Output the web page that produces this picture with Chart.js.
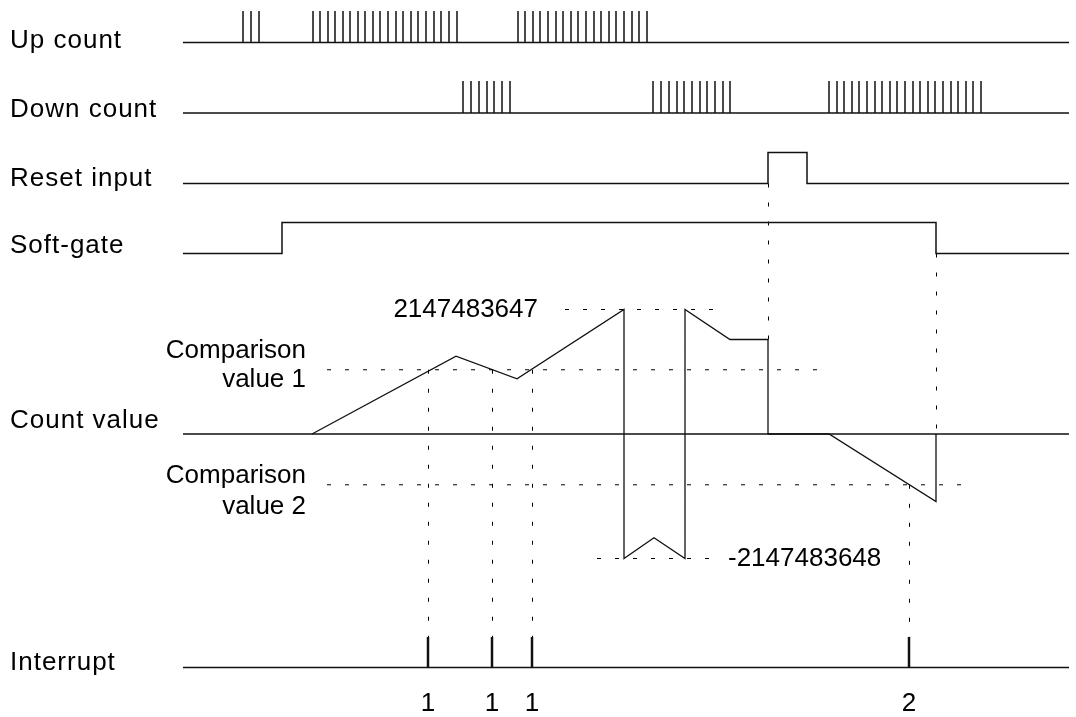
<!DOCTYPE html>
<html>
<head>
<meta charset="utf-8">
<script src="https://cdn.jsdelivr.net/npm/chart.js@4/dist/chart.umd.min.js"></script>
<style>
  html, body { margin: 0; background: #fff; }
  #wrap { width: 1076px; height: 717px; position: relative; }
</style>
</head>
<body>
<div id="wrap"><canvas id="timing"></canvas></div>
<script>
// time axis: arbitrary time units, 0 = start of every trace
const T_START = 0, T_END = 88.6;

const upPulses = [6.0, 6.8, 7.6,
  13.0, 13.7, 14.5, 15.2, 16.0, 16.7, 17.5, 18.2, 19.0, 19.7,
  20.5, 21.3, 22.0, 22.8, 23.5, 24.3, 25.1, 25.8, 26.6, 27.4,
  33.5, 34.2, 35.0, 35.7, 36.5, 37.3, 38.0, 38.8, 39.5, 40.3,
  41.1, 41.8, 42.6, 43.3, 44.1, 44.9, 45.6, 46.4];
const downPulses = [28.0, 28.8, 29.6, 30.4, 31.1, 31.9, 32.7,
  47.0, 47.8, 48.6, 49.4, 50.1, 50.9, 51.7, 52.4, 53.2, 54.0, 54.7,
  64.6, 65.4, 66.1, 66.9, 67.6, 68.4, 69.2, 69.9, 70.7, 71.4,
  72.2, 73.0, 73.7, 74.5, 75.2, 76.0, 76.8, 77.5, 78.3, 79.0, 79.8];
const resetEdges = [58.5, 62.4];
const gateEdges = [9.9, 75.3];

const COUNT_MAX = 2147483647, COUNT_MIN = -2147483648;
const compare1 = 1.108e9, compare2 = -0.876e9;
const countT = [12.9, 27.3, 33.4, 44.1, 44.1, 47.1, 50.2, 50.2, 54.7, 58.5, 58.5, 64.6, 75.3, 75.3];
const countV = [0, 1.342e9, 0.952e9, COUNT_MAX, COUNT_MIN, -1.79e9, COUNT_MIN, COUNT_MAX,
  1.63e9, 1.63e9, 0, 0, -1.164e9, 0];
const maxSpan = [38.2, 54.0];
const minSpan = [41.4, 53.4];
const compare1Span = [14.4, 64.7];
const compare2Span = [14.4, 78.0];

const interruptT = [24.5, 30.9, 34.9, 72.6];
const interruptLabels = ['1', '1', '1', '2'];

// layout (pixels)
const W = 1076, H = 717;
const X0 = 183, PX_PER_T = 10;
const lanes = {
  yUp:    { base: 42.5,  high: 11 },
  yDown:  { base: 113,   high: 81 },
  yReset: { base: 183.5, high: 152.5 },
  yGate:  { base: 253.5, high: 222.5 },
  yInt:   { base: 667.5, high: 637 }
};
const countTop = 309.5, countBottom = 558.5;
const FONT = '"Liberation Sans", Arial, sans-serif';
const INK = '#111';

function laneAxis(l) {
  const unit = l.base - l.high;
  const max = l.base / unit;
  return { type: 'linear', display: false, min: max - H / unit, max: max };
}
function countAxis() {
  const unit = (countBottom - countTop) / (COUNT_MAX - COUNT_MIN);
  const max = COUNT_MAX + countTop / unit;
  return { type: 'linear', display: false, min: max - H / unit, max: max };
}

function pulseTrain(times) {
  const pts = [{ x: T_START, y: 0 }];
  times.forEach(t => { pts.push({ x: t, y: 0 }, { x: t, y: 1 }, { x: t, y: 0 }); });
  pts.push({ x: T_END, y: 0 });
  return pts;
}
function gateTrace(edges) {
  return [{ x: T_START, y: 0 }, { x: edges[0], y: 0 }, { x: edges[0], y: 1 },
          { x: edges[1], y: 1 }, { x: edges[1], y: 0 }, { x: T_END, y: 0 }];
}
function spikes(times) {
  const pts = [];
  times.forEach(t => { pts.push({ x: t, y: 0 }, { x: t, y: 1 }, { x: t, y: null }); });
  return pts;
}
function hline(span, v) { return [{ x: span[0], y: v }, { x: span[1], y: v }]; }

function solid(data, axis, width) {
  return { data, yAxisID: axis, showLine: true, pointRadius: 0, borderColor: INK,
           borderWidth: width || 1.5, fill: false, tension: 0 };
}
function dashed(data) {
  return { data, yAxisID: 'yCount', showLine: true, pointRadius: 0, borderColor: '#000',
           borderWidth: 1, borderDash: [4, 14], fill: false, tension: 0 };
}

// vertical dotted guides drawn across lanes through the scales
const guides = [
  { t: interruptT[0], from: ['yCount', compare1], to: ['yInt', 1] },
  { t: interruptT[1], from: ['yCount', compare1], to: ['yInt', 1] },
  { t: interruptT[2], from: ['yCount', compare1], to: ['yInt', 1] },
  { t: interruptT[3], from: ['yCount', compare2], to: ['yInt', 1] },
  { t: resetEdges[0], from: ['yReset', 0], to: ['yCount', countV[9]] },
  { t: gateEdges[1], from: ['yGate', 0], to: ['yCount', 0] }
];

const guidePlugin = {
  id: 'guides',
  beforeDatasetsDraw(chart) {
    const ctx = chart.ctx, xs = chart.scales.x;
    ctx.save();
    ctx.strokeStyle = '#000';
    ctx.lineWidth = 1;
    ctx.setLineDash([4, 15]);
    guides.forEach(g => {
      const x = Math.round(xs.getPixelForValue(g.t)) + 0.5;
      ctx.beginPath();
      ctx.moveTo(x, chart.scales[g.from[0]].getPixelForValue(g.from[1]));
      ctx.lineTo(x, chart.scales[g.to[0]].getPixelForValue(g.to[1]));
      ctx.stroke();
    });
    ctx.restore();
  }
};

const sideLabels = [
  { text: 'Up count', y: 41 },
  { text: 'Down count', y: 109.5 },
  { text: 'Reset input', y: 178.5 },
  { text: 'Soft-gate', y: 246 },
  { text: 'Count value', y: 421 },
  { text: 'Interrupt', y: 663 }
];

const textPlugin = {
  id: 'texts',
  afterDraw(chart) {
    const ctx = chart.ctx, xs = chart.scales.x, yc = chart.scales.yCount;
    ctx.save();
    ctx.fillStyle = '#000';
    ctx.font = '26px ' + FONT;
    ctx.textBaseline = 'middle';
    ctx.textAlign = 'left';
    ctx.letterSpacing = '1px';
    sideLabels.forEach(l => ctx.fillText(l.text, 10, l.y));
    ctx.letterSpacing = '0px';

    ctx.textAlign = 'right';
    ctx.fillText('Comparison', 306, 350.5);
    ctx.fillText('value 1', 306, 380);
    ctx.fillText('Comparison', 306, 476);
    ctx.fillText('value 2', 306, 507);
    ctx.fillText(String(COUNT_MAX), 538, yc.getPixelForValue(COUNT_MAX));
    ctx.textAlign = 'left';
    ctx.fillText(String(COUNT_MIN), 728, yc.getPixelForValue(COUNT_MIN));

    ctx.textAlign = 'center';
    interruptT.forEach((t, i) => ctx.fillText(interruptLabels[i], xs.getPixelForValue(t), 704));
    ctx.restore();
  }
};

const scales = {
  x: { type: 'linear', display: false, min: T_START - X0 / PX_PER_T, max: T_START + (W - X0) / PX_PER_T },
  yCount: countAxis()
};
Object.keys(lanes).forEach(k => { scales[k] = laneAxis(lanes[k]); });

new Chart(document.getElementById('timing'), {
  type: 'scatter',
  data: {
    datasets: [
      dashed(hline(maxSpan, COUNT_MAX)),
      dashed(hline(minSpan, COUNT_MIN)),
      dashed(hline(compare1Span, compare1)),
      dashed(hline(compare2Span, compare2)),
      solid(pulseTrain(upPulses), 'yUp'),
      solid(pulseTrain(downPulses), 'yDown'),
      solid(gateTrace(resetEdges), 'yReset'),
      solid(gateTrace(gateEdges), 'yGate'),
      solid(hline([T_START, T_END], 0), 'yCount'),
      solid(countT.map((t, i) => ({ x: t, y: countV[i] })), 'yCount', 1.3),
      solid(hline([T_START, T_END], 0), 'yInt'),
      solid(spikes(interruptT), 'yInt', 2.5)
    ]
  },
  options: {
    responsive: true,
    maintainAspectRatio: false,
    animation: false,
    events: [],
    layout: { padding: 0 },
    plugins: { legend: { display: false }, tooltip: { enabled: false } },
    scales: scales
  },
  plugins: [guidePlugin, textPlugin]
});
</script>
</body>
</html>
